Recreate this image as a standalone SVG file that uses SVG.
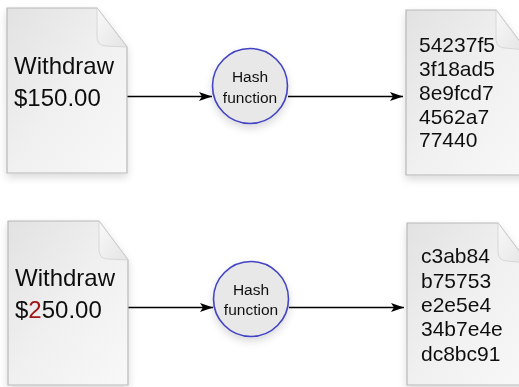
<svg xmlns="http://www.w3.org/2000/svg" width="519" height="387" viewBox="0 0 519 387">
<defs>
<linearGradient id="paper" x1="0" y1="0" x2="1" y2="1">
<stop offset="0" stop-color="#e2e2e2"/>
<stop offset="0.5" stop-color="#f0f0f0"/>
<stop offset="1" stop-color="#f8f8f8"/>
</linearGradient>
<linearGradient id="flap" x1="0" y1="0" x2="1" y2="1">
<stop offset="0" stop-color="#f9f9f9"/>
<stop offset="1" stop-color="#e4e4e4"/>
</linearGradient>
<filter id="shadow" x="-20%" y="-20%" width="140%" height="140%">
<feGaussianBlur in="SourceAlpha" stdDeviation="4"/>
<feOffset dx="0" dy="4" result="b"/>
<feComponentTransfer><feFuncA type="linear" slope="0.15"/></feComponentTransfer>
<feMerge><feMergeNode/><feMergeNode in="SourceGraphic"/></feMerge>
</filter>
<marker id="arrow" viewBox="0 0 13 9" refX="13" refY="4.5" markerWidth="13" markerHeight="9" markerUnits="userSpaceOnUse" orient="auto">
<path d="M0,0 L13,4.5 L0,9 L3,4.5 Z" fill="#000"/>
</marker>
</defs>
<style>
.doc{fill:url(#paper);stroke:#b8b8b8;stroke-width:1.2}
.flap{fill:url(#flap);stroke:#d0d0d0;stroke-width:0.8}
.hash{fill:#e8e8e8;stroke:#4343c4;stroke-width:1.6}
.big{font-family:"Liberation Sans",Arial,sans-serif;font-size:24px;fill:#111}
.hex{font-family:"Liberation Sans",Arial,sans-serif;font-size:21px;fill:#111}
.hl{font-family:"Liberation Sans",Arial,sans-serif;font-size:15.5px;fill:#111;text-anchor:middle}
.edge{stroke:#000;stroke-width:1.3;fill:none;marker-end:url(#arrow)}
</style>

<g id="connectors">
<line class="edge" x1="127" y1="96.5" x2="212" y2="96.5"/>
<line class="edge" x1="288" y1="96.5" x2="403" y2="96.5"/>
<line class="edge" x1="128" y1="307.5" x2="213" y2="307.5"/>
<line class="edge" x1="289" y1="307.5" x2="404" y2="307.5"/>
</g>

<g id="doc-withdraw-150" filter="url(#shadow)">
<path class="doc" d="M7,8 H97 L127,47 V173 H7 Z"/>
<path class="flap" d="M97,8 L97,38 Q98,46 106,46 L127,47 Z"/>
<text class="big" x="14" y="74">Withdraw</text>
<text class="big" x="14" y="106">$150.00</text>
</g>

<g id="hash-1" filter="url(#shadow)">
<circle class="hash" cx="250" cy="86" r="37.5"/>
<text class="hl" x="250" y="82">Hash</text>
<text class="hl" x="250" y="102.5">function</text>
</g>

<g id="digest-1" filter="url(#shadow)">
<path class="doc" d="M406,10 H496 L526,50 V175 H406 Z"/>
<path class="flap" d="M496,10 L496,40 Q497,48 505,48 L526,50 Z"/>
<text class="hex" x="419" y="52.3">54237f5</text>
<text class="hex" x="419" y="76">3f18ad5</text>
<text class="hex" x="419" y="99.8">8e9fcd7</text>
<text class="hex" x="419" y="123.5">4562a7</text>
<text class="hex" x="419" y="147.3">77440</text>
</g>

<g id="doc-withdraw-250" filter="url(#shadow)">
<path class="doc" d="M8,221 H99 L128,260 V385 H8 Z"/>
<path class="flap" d="M99,221 L99,251 Q100,259 108,259 L128,260 Z"/>
<text class="big" x="15" y="286">Withdraw</text>
<text class="big" x="15" y="318"><tspan>$</tspan><tspan fill="#a01414">2</tspan><tspan>50.00</tspan></text>
</g>

<g id="hash-2" filter="url(#shadow)">
<circle class="hash" cx="251" cy="299" r="37.5"/>
<text class="hl" x="251" y="295">Hash</text>
<text class="hl" x="251" y="314.5">function</text>
</g>

<g id="digest-2" filter="url(#shadow)">
<path class="doc" d="M407,223 H498 L528,263 V385 H407 Z"/>
<path class="flap" d="M498,223 L498,253 Q499,261 507,261 L528,263 Z"/>
<text class="hex" x="421" y="263.3">c3ab84</text>
<text class="hex" x="421" y="287.5">b75753</text>
<text class="hex" x="421" y="311.7">e2e5e4</text>
<text class="hex" x="421" y="336.3">34b7e4e</text>
<text class="hex" x="421" y="360.7">dc8bc91</text>
</g>
</svg>
